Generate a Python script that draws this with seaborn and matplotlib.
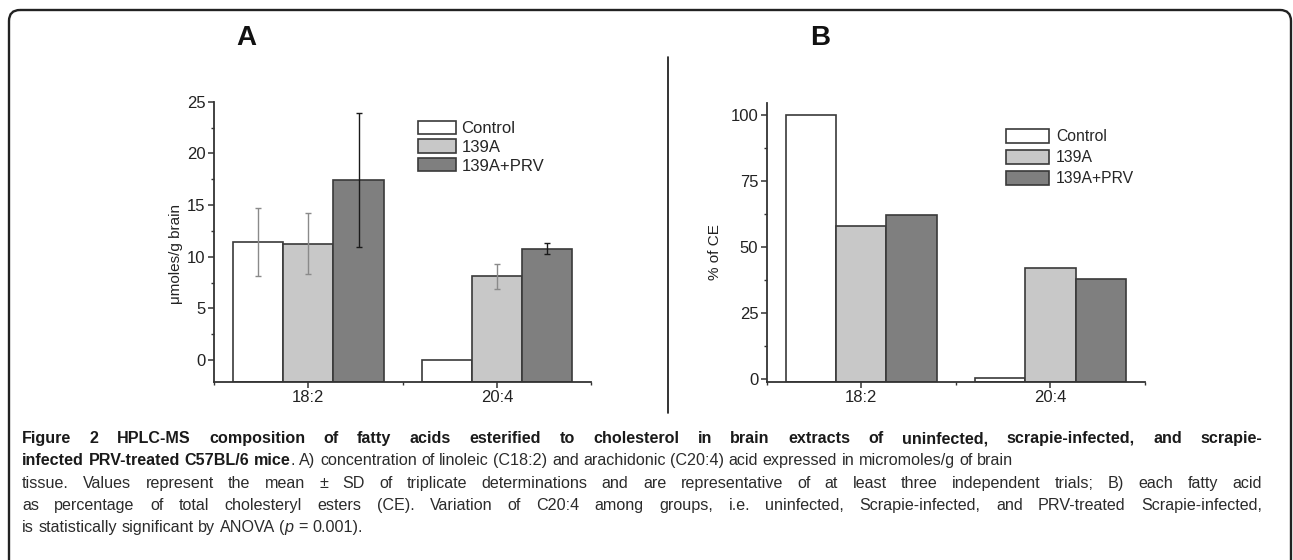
import matplotlib
matplotlib.use('Agg')
import matplotlib.pyplot as plt
import seaborn as sns
import numpy as np
import pandas as pd
from matplotlib.patches import FancyBboxPatch, Patch
from matplotlib.ticker import MultipleLocator


# data
acids = ['18:2', '20:4']
groups = ['Control', '139A', '139A+PRV']

# A) micromoles/g brain, mean and SD
conc_control = [11.45, 0.0]
conc_139a = [11.25, 8.1]
conc_prv = [17.4, 10.75]
sd_control = [3.3, 0.0]
sd_139a = [2.95, 1.22]
sd_prv = [6.5, 0.53]

# B) % of total cholesteryl esters
pct_control = [100.0, 0.4]
pct_139a = [58.0, 42.0]
pct_prv = [62.0, 38.0]

bar_colors = ['#ffffff', '#c8c8c8', '#7f7f7f']
err_colors = ['#8a8a8a', '#8a8a8a', '#1a1a1a']
edge = '#3a3a3a'

sns.set_style('ticks')
plt.rcParams['font.family'] = 'Liberation Sans'
cap_font, cap_size = 'Liberation Sans', 11.6


def make_frame(series):
    rows = []
    for g, vals in zip(groups, series):
        for a, v in zip(acids, vals):
            rows.append({'acid': a, 'group': g, 'value': v})
    return pd.DataFrame(rows)


def draw_panel(ax, series, sds, ylim, major, minor, ylabel, label_xy, leg_xy, leg_kw):
    df = make_frame(series)
    sns.barplot(data=df, x='acid', y='value', hue='group', order=acids, hue_order=groups,
                palette=bar_colors, saturation=1, width=0.8, edgecolor=edge, linewidth=1.2,
                errorbar=None, legend=False, ax=ax)
    ymin, ymax = ylim
    # Origin style: bars start at the bottom of the axis
    for p in ax.patches:
        h = p.get_height()
        p.set_y(ymin)
        p.set_height(h - ymin)
    if sds is not None:
        for cont, vals, sd, col in zip(ax.containers, series, sds, err_colors):
            bars = sorted(cont, key=lambda r: r.get_x())
            xs = [r.get_x() + r.get_width() / 2 for r in bars]
            pts = [(x, v, s) for x, v, s in zip(xs, vals, sd) if s > 0]
            ax.errorbar([q[0] for q in pts], [q[1] for q in pts], yerr=[q[2] for q in pts],
                        fmt='none', ecolor=col, elinewidth=1.0, capsize=2.3, capthick=1.0, zorder=5)
    ax.set_ylim(ymin, ymax)
    ax.set_xlim(-0.5, 1.5)
    ax.set_yticks(major)
    ax.yaxis.set_minor_locator(MultipleLocator(minor))
    ax.set_xticks([0, 1])
    ax.set_xticklabels(acids)
    ax.set_xticks([-0.5, 0.5, 1.5], minor=True)
    ax.set_xlabel('')
    ax.set_ylabel(ylabel, fontsize=11, color='#222222')
    ax.yaxis.set_label_coords(*label_xy)
    sns.despine(ax=ax)
    for s in ['left', 'bottom']:
        ax.spines[s].set_color('#333333')
        ax.spines[s].set_linewidth(1.3)
    ax.tick_params(axis='both', which='major', length=4, width=1.1, color='#333333',
                   labelsize=12, labelcolor='#222222', pad=2)
    ax.tick_params(axis='both', which='minor', length=2.5, width=1.0, color='#333333')
    handles = [Patch(facecolor=c, edgecolor=edge, linewidth=1.2, label=g)
               for c, g in zip(bar_colors, groups)]
    ax.legend(handles=handles, loc='upper left', bbox_to_anchor=leg_xy, frameon=False,
              borderpad=0, borderaxespad=0, **leg_kw)


W, H = 1293, 560
fig = plt.figure(figsize=(W / 100, H / 100), dpi=100)

# background layer in pixel units for frame, panel letters and caption
bg = fig.add_axes([0, 0, 1, 1], zorder=-1)
bg.set_xlim(0, W)
bg.set_ylim(H, 0)
bg.axis('off')
bg.add_patch(FancyBboxPatch((9, 10), 1291 - 9, 620, boxstyle='round,pad=0,rounding_size=11',
                            fill=False, ec='#222222', lw=1.7))
bg.plot([668, 668], [57, 413], color='#111111', lw=1.2)
bg.text(246, 38, 'A', ha='center', va='center', fontsize=20, fontweight='bold', color='#111111')
bg.text(820, 38, 'B', ha='center', va='center', fontsize=20, fontweight='bold', color='#111111')

ax_a = fig.add_axes([214 / W, (H - 381.7) / H, 377.3 / W, 280 / H])
draw_panel(ax_a, [conc_control, conc_139a, conc_prv], [sd_control, sd_139a, sd_prv],
           (-2.1, 25), [0, 5, 10, 15, 20, 25], 2.5, 'μmoles/g brain', (-0.082, 0.456),
           (0.54, 0.932), dict(fontsize=12, handlelength=2.28, handleheight=0.84,
                               labelspacing=0.2, handletextpad=0.35))

ax_b = fig.add_axes([766.7 / W, (H - 381.7) / H, 378.3 / W, 279 / H])
draw_panel(ax_b, [pct_control, pct_139a, pct_prv], None,
           (-1.0, 104.7), [0, 25, 50, 75, 100], 12.5, '% of CE', (-0.118, 0.466),
           (0.6326, 0.906), dict(fontsize=11.3, handlelength=2.72, handleheight=1.02,
                                 labelspacing=0.35, handletextpad=0.45))

# caption, '*' toggles bold and '_' toggles italic
cap_lines = [
    '*Figure 2 HPLC-MS composition of fatty acids esterified to cholesterol in brain extracts of uninfected, scrapie-infected, and scrapie-*',
    '*infected PRV-treated C57BL/6 mice*. A) concentration of linoleic (C18:2) and arachidonic (C20:4) acid expressed in micromoles/g of brain',
    'tissue. Values represent the mean ± SD of triplicate determinations and are representative of at least three independent trials; B) each fatty acid',
    'as percentage of total cholesteryl esters (CE). Variation of C20:4 among groups, i.e. uninfected, Scrapie-infected, and PRV-treated Scrapie-infected,',
    'is statistically significant by ANOVA (_p_ = 0.001).',
]
cap_justify = [True, False, True, True, False]
cap_left, cap_right = 22, 1262
cap_base0, cap_step = 443, 22.3


def parse(line):
    words, cur, piece = [], [], ''
    bold = ital = False
    for ch in line + ' ':
        if ch in '*_ ':
            if piece:
                cur.append((piece, bold, ital))
                piece = ''
            if ch == '*':
                bold = not bold
            elif ch == '_':
                ital = not ital
            elif cur:
                words.append(cur)
                cur = []
        else:
            piece += ch
    return words


renderer = fig.canvas.get_renderer()


def put(x, y, s, bold, ital, draw=True):
    t = bg.text(x, y, s, fontsize=cap_size, family=cap_font, va='baseline', ha='left',
                fontweight='bold' if bold else 'normal',
                fontstyle='italic' if ital else 'normal',
                color='#1a1a1a' if bold else '#2b2b2b')
    w = t.get_window_extent(renderer).width
    if not draw:
        t.remove()
    return w


sp = put(0, 0, 'a a', False, False, False) - put(0, 0, 'aa', False, False, False)
span = cap_right - cap_left

for k, (line, just) in enumerate(zip(cap_lines, cap_justify)):
    words = parse(line)
    y = cap_base0 + k * cap_step
    gap = sp
    if just:
        inked = sum(put(0, 0, s, b, i, False) for w in words for (s, b, i) in w)
        gap = max(sp * 0.8, (span - inked) / (len(words) - 1))
    x = cap_left
    for w in words:
        for (s, b, i) in w:
            x += put(x, y, s, b, i)
        x += gap

fig.savefig('out.png', dpi=100)
